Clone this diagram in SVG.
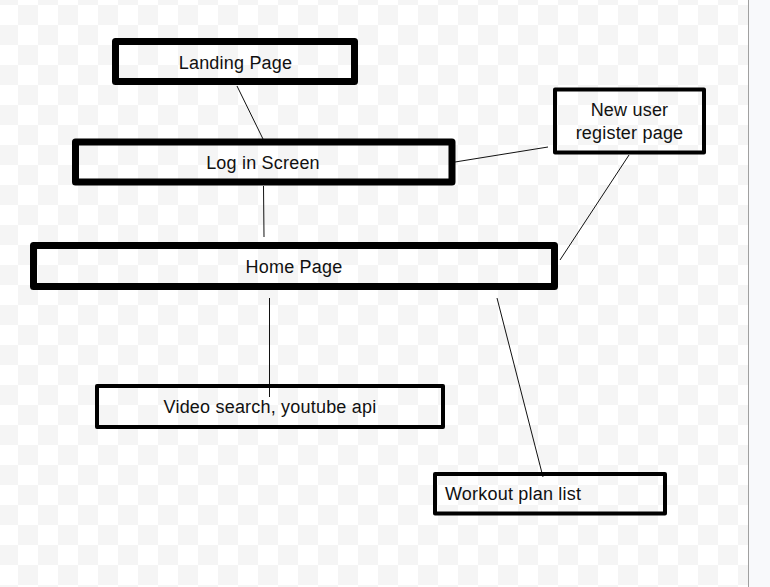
<svg xmlns="http://www.w3.org/2000/svg" width="770" height="587" viewBox="0 0 770 587">
<style>
.thick{fill:none;stroke:#000;stroke-width:7;stroke-linejoin:round}
.thin{fill:none;stroke:#000;stroke-width:4;stroke-linejoin:round}
.lbl{font-family:"Liberation Sans",Arial,sans-serif;font-size:18px;letter-spacing:0.2px;fill:#111}
.c{text-anchor:middle}
.conn line{stroke:#111;stroke-width:1}
</style>
<defs>
<pattern id="chk" x="-2" y="5" width="40" height="40" patternUnits="userSpaceOnUse">
<rect width="40" height="40" fill="#ffffff"/>
<rect x="20" y="0" width="20" height="20" fill="#f5f5f5"/>
<rect x="0" y="20" width="20" height="20" fill="#f5f5f5"/>
</pattern>
</defs>
<rect x="0" y="0" width="748" height="587" fill="url(#chk)"/>
<rect x="748" y="0" width="22" height="587" fill="#f8f9fb"/>
<line x1="748.5" y1="0" x2="748.5" y2="587" stroke="#a0a0a0" stroke-width="1"/>
<g class="conn" id="connectors">
<line x1="237" y1="86" x2="263" y2="139"/>
<line x1="263.5" y1="186" x2="264" y2="237"/>
<line x1="455" y1="162" x2="548" y2="147"/>
<line x1="629" y1="155" x2="560" y2="260"/>
<line x1="269.5" y1="298" x2="269.5" y2="397"/>
<line x1="497" y1="298" x2="543" y2="477"/>
</g>
<g id="landing">
<rect class="thick" x="115.5" y="41.5" width="239" height="40"/>
<text class="lbl c" x="235.5" y="69">Landing Page</text>
</g>
<g id="login">
<rect class="thick" x="75.5" y="142" width="376.5" height="40"/>
<text class="lbl c" x="263" y="168.5">Log in Screen</text>
</g>
<g id="register">
<rect class="thin" x="555" y="89.5" width="149" height="63"/>
<text class="lbl c" x="629.5" y="116">New user</text>
<text class="lbl c" x="629.5" y="139">register page</text>
</g>
<g id="home">
<rect class="thick" x="33.5" y="245.5" width="521" height="41"/>
<text class="lbl c" x="294" y="273">Home Page</text>
</g>
<g id="video">
<rect class="thin" x="97" y="386" width="346" height="41"/>
<text class="lbl c" x="270" y="413">Video search, youtube api</text>
</g>
<g id="workout">
<rect class="thin" x="435" y="474" width="230" height="39.5"/>
<text class="lbl" x="445" y="500">Workout plan list</text>
</g>
</svg>
